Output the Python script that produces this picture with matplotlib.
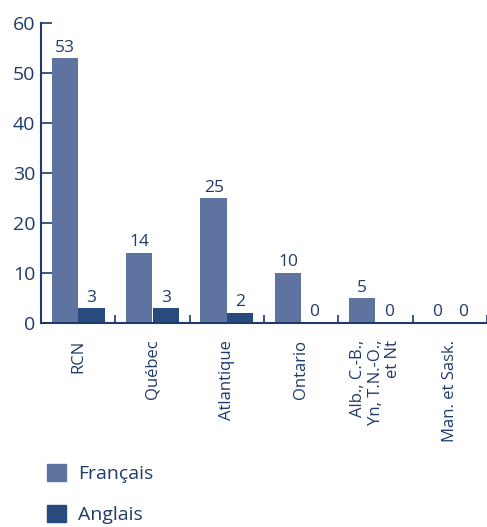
import numpy as np
import matplotlib as mpl
import matplotlib.pyplot as plt
from matplotlib.patches import Patch

mpl.rcParams.update({"font.family": ["Open Sans", "DejaVu Sans"]})

regions = ["RCN", "Québec", "Atlantique", "Ontario",
           "Alb., C.-B.,\nYn, T.N.-O.,\net Nt", "Man. et Sask."]
francais = [53, 14, 25, 10, 5, 0]
anglais = [3, 3, 2, 0, 0, 0]
series = ["Français", "Anglais"]

C_FR = "#5f73a0"
C_EN = "#284a7e"
TXT = "#1f3b6b"

fig = plt.figure(figsize=(4.87, 5.27), dpi=100)
ax = fig.add_axes([41 / 487, 1 - 323 / 527, 446 / 487, 300 / 527])

x = np.arange(len(regions))
w = 0.355
b1 = ax.bar(x - w / 2, francais, w, color=C_FR)
b2 = ax.bar(x + w / 2, anglais, w, color=C_EN)
for bars, vals in ((b1, francais), (b2, anglais)):
    for r, v in zip(bars, vals):
        ax.text(r.get_x() + r.get_width() / 2, v + 0.5, str(v),
                ha="center", va="bottom", fontsize=12.5, color=TXT)

ax.set_xlim(-0.5, len(regions) - 0.5)
ax.set_ylim(0, 60)
ax.set_yticks(range(0, 61, 10))
ax.tick_params(axis="y", direction="in", length=8, width=1.2, color=TXT,
               labelsize=14, labelcolor=TXT, pad=4)
ax.set_xticks(x + 0.5, minor=True)
ax.set_xticks(x)
ax.set_xticklabels(regions, rotation=90, fontsize=12, color=TXT,
                   va="top", ha="center", multialignment="right",
                   linespacing=1.1)
ax.tick_params(axis="x", which="major", length=0, pad=12)
ax.tick_params(axis="x", which="minor", direction="in", length=6,
               width=1.2, color=TXT)
for s in ("top", "right"):
    ax.spines[s].set_visible(False)
for s in ("left", "bottom"):
    ax.spines[s].set_color(TXT)
    ax.spines[s].set_linewidth(1.5)

handles = [Patch(color=C_FR), Patch(color=C_EN)]
fig.legend(handles, series, loc="upper left",
           bbox_to_anchor=(47 / 487, 1 - 464 / 527),
           frameon=False, fontsize=14, handlelength=1.0, handleheight=1.0,
           labelspacing=1.1, handletextpad=0.6, borderpad=0,
           borderaxespad=0, labelcolor=TXT)

fig.savefig("out.png", dpi=100)
